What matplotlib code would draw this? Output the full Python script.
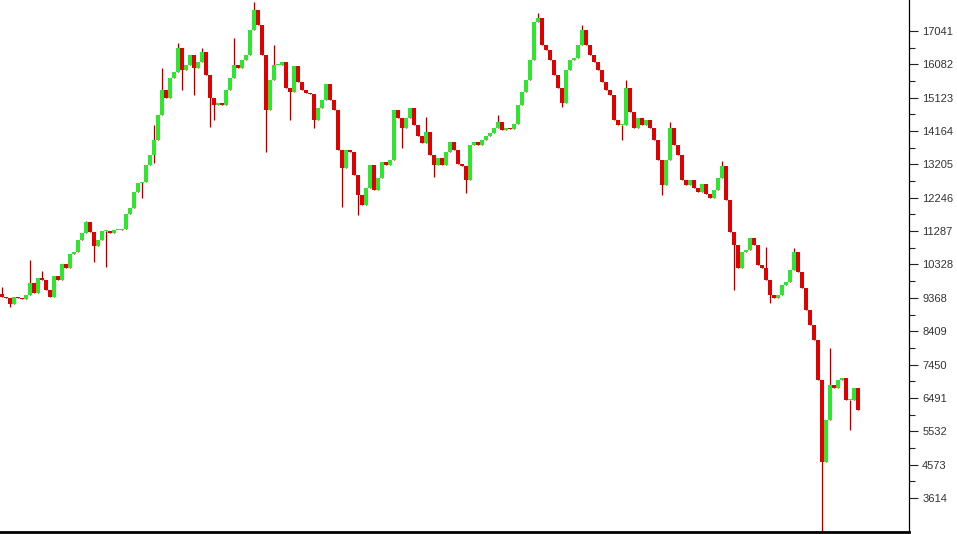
import numpy as np
import matplotlib.pyplot as plt

# closing prices, one candle per slot
close = [9393, 9365, 9192, 9393, 9365, 9336, 9451, 9796, 9508, 9940,
         9882, 9595, 9393, 9997, 9882, 10342, 10227, 10630, 10687, 11032,
         11233, 11550, 11262, 10860, 11032, 11291, 11291, 11233, 11320, 11320,
         11349, 11780, 11952, 12412, 12671, 12700, 13188, 13476, 13907, 14626,
         15345, 15115, 15690, 15862, 16552, 15920, 16063, 16351, 15977, 16150,
         16437, 15776, 15115, 14913, 14971, 14913, 15345, 15690, 16063, 15977,
         16207, 16351, 17070, 17645, 17213, 16351, 14770, 15632, 16063, 16063,
         16150, 15402, 15287, 16035, 15575, 15345, 15258, 15230, 14482, 14827,
         15057, 15517, 15057, 14770, 13620, 13102, 13620, 13562, 12901, 12326,
         12038, 12527, 13188, 12470, 12815, 13275, 13188, 13332, 14770, 14540,
         14252, 14540, 14827, 14338, 14022, 13821, 14137, 13476, 13188, 13390,
         13188, 13562, 13849, 13620, 13217, 13160, 12757, 13763, 13849, 13763,
         13907, 14022, 14108, 14252, 14425, 14195, 14252, 14223, 14367, 14913,
         15287, 15632, 16207, 17300, 17415, 16638, 16495, 16207, 15776, 15402,
         14971, 15920, 16207, 16265, 16638, 17070, 16638, 16351, 16150, 15920,
         15575, 15345, 15201, 14482, 14338, 14338, 15402, 14712, 14252, 14540,
         14338, 14482, 14252, 13907, 13332, 12613, 13332, 14252, 13763, 13476,
         12757, 12613, 12757, 12527, 12412, 12642, 12355, 12240, 12470, 12815,
         13160, 12182, 11262, 10888, 10227, 10687, 10745, 11090, 10888, 10314,
         10227, 9882, 9451, 9365, 9451, 9738, 9825, 10170, 10687, 10112,
         9652, 9020, 8588, 8157, 7007, 4650, 5857, 6863, 6777, 7007,
         7064, 6432, 6432, 6777, 6145]
first_open = 9480

# long shadows (candle index: price)
wick_high = {0: 9681, 7: 10457, 10: 10141, 21: 11578, 38: 14338, 40: 15977,
             44: 16696, 50: 16552, 58: 16840, 63: 17875, 68: 16638, 106: 14568,
             124: 14626, 134: 17558, 145: 17213, 156: 15632, 167: 14425,
             180: 13304, 191: 10831, 198: 10802, 207: 7933}
wick_low = {2: 9106, 23: 10400, 26: 10256, 35: 12240, 38: 13246, 45: 15345,
            48: 15201, 52: 14281, 53: 14482, 66: 13562, 72: 14482, 78: 14252,
            85: 11980, 89: 11751, 100: 13677, 108: 12843, 116: 12383,
            140: 14856, 155: 13907, 165: 12326, 183: 9595, 192: 9221,
            205: 2640, 212: 5570}

price_ticks = [17041, 16082, 15123, 14164, 13205, 12246, 11287, 10328,
               9368, 8409, 7450, 6491, 5532, 4573, 3614]

closes = np.array(close, dtype=float)
opens = np.concatenate([[first_open], closes[:-1]])
highs = np.maximum(opens, closes)
lows = np.minimum(opens, closes)
for k, v in wick_high.items():
    highs[k] = max(highs[k], v)
for k, v in wick_low.items():
    lows[k] = min(lows[k], v)

idx = np.arange(len(closes))
up = closes >= opens
body_lo = np.minimum(opens, closes)
body_h = np.maximum(np.abs(closes - opens), 30)

fig = plt.figure(figsize=(9.57, 5.34), dpi=100)
ax = fig.add_axes([0, 2 / 534, 909 / 957, 532 / 534])

ax.vlines(idx, lows, highs, color='#a00000', linewidth=0.9, zorder=2)
ax.bar(idx[up], body_h[up], bottom=body_lo[up], width=0.85,
       color='#2ee62e', edgecolor='none', zorder=3)
ax.bar(idx[~up], body_h[~up], bottom=body_lo[~up], width=0.85,
       color='#e00000', edgecolor='none', zorder=3)

ax.set_xlim(-0.5, 226.75)
ax.set_ylim(2637, 17932)

ax.yaxis.tick_right()
ax.set_yticks(price_ticks)
ax.set_yticklabels([str(t) for t in price_ticks], fontsize=8,
                   family='Liberation Sans', color='#333333')
minor = [(price_ticks[i] + price_ticks[i + 1]) / 2 for i in range(len(price_ticks) - 1)]
ax.set_yticks(minor, minor=True)
ax.tick_params(axis='y', which='major', length=6.5, width=0.8, pad=3, color='#222222')
ax.tick_params(axis='y', which='minor', length=4, width=0.8, color='#222222')
ax.set_xticks([])

ax.spines['left'].set_visible(False)
ax.spines['top'].set_visible(False)
ax.spines['right'].set_linewidth(0.9)
ax.spines['bottom'].set_linewidth(2)

fig.savefig('out.png', dpi=100)
